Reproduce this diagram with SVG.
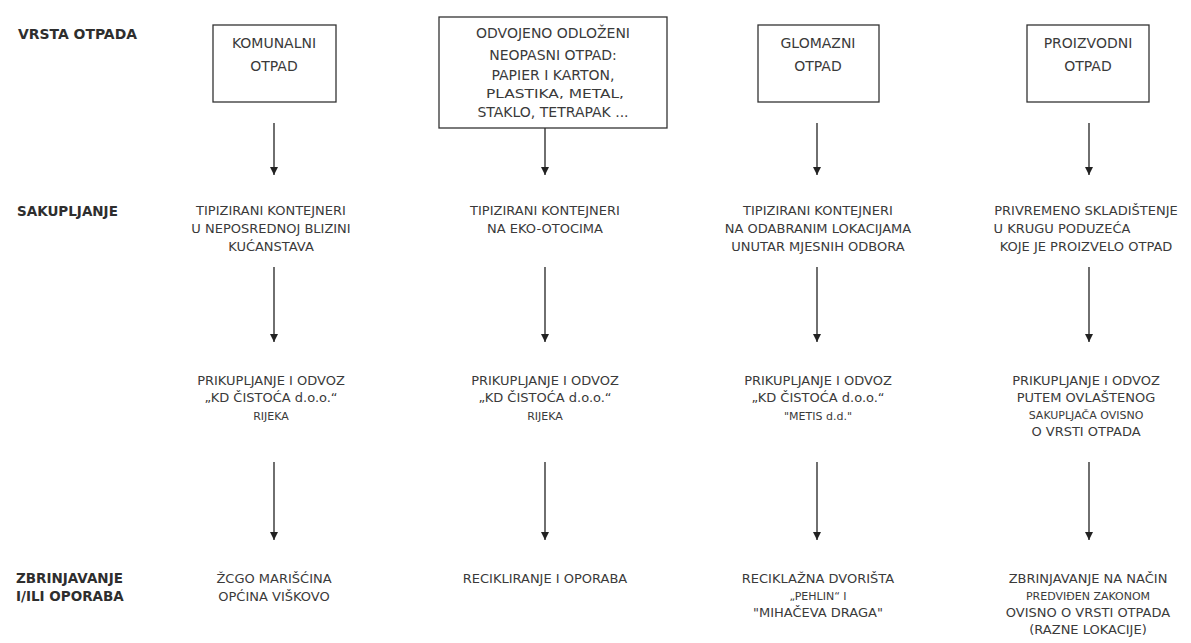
<svg xmlns="http://www.w3.org/2000/svg" width="1191" height="643" viewBox="0 0 1191 643">
<defs>
<marker id="ah" markerWidth="9" markerHeight="9" refX="8" refY="4" orient="auto" markerUnits="userSpaceOnUse">
<path d="M0,0 L8,4 L0,8 Z" fill="#222"/>
</marker>
<style>
text{font-family:"DejaVu Sans","Liberation Sans",sans-serif;fill:#3a3a3a;text-anchor:middle;font-size:13px}
.lbl{text-anchor:start;font-weight:bold;font-size:13.5px;fill:#2e2e2e}
.bx{font-size:14px}
.sm{font-size:11px}
.box{fill:#fff;stroke:#333;stroke-width:1.3}
.con{stroke:#222;stroke-width:1.3;fill:none}
</style>
</defs>
<rect width="1191" height="643" fill="#fff"/>
<g id="labels">
<text class="lbl" x="18" y="39" textLength="119" lengthAdjust="spacingAndGlyphs">VRSTA OTPADA</text>
<text class="lbl" x="17" y="216">SAKUPLJANJE</text>
<text class="lbl" x="16" y="583">ZBRINJAVANJE</text>
<text class="lbl" x="16" y="601">I/ILI OPORABA</text>
</g>
<g id="connectors">
<line class="con" x1="274" y1="123" x2="274" y2="175" marker-end="url(#ah)"/>
<line class="con" x1="545" y1="128" x2="545" y2="175" marker-end="url(#ah)"/>
<line class="con" x1="817" y1="123" x2="817" y2="175" marker-end="url(#ah)"/>
<line class="con" x1="1089" y1="123" x2="1089" y2="175" marker-end="url(#ah)"/>
<line class="con" x1="274" y1="267" x2="274" y2="342" marker-end="url(#ah)"/>
<line class="con" x1="545" y1="267" x2="545" y2="342" marker-end="url(#ah)"/>
<line class="con" x1="817" y1="267" x2="817" y2="342" marker-end="url(#ah)"/>
<line class="con" x1="1089" y1="267" x2="1089" y2="342" marker-end="url(#ah)"/>
<line class="con" x1="274" y1="462" x2="274" y2="540" marker-end="url(#ah)"/>
<line class="con" x1="545" y1="462" x2="545" y2="540" marker-end="url(#ah)"/>
<line class="con" x1="817" y1="462" x2="817" y2="540" marker-end="url(#ah)"/>
<line class="con" x1="1089" y1="462" x2="1089" y2="540" marker-end="url(#ah)"/>
</g>
<g id="n-komunalni">
<rect class="box" x="213" y="25" width="123" height="77"/>
<text class="bx" x="274" y="48">KOMUNALNI</text>
<text class="bx" x="274" y="71">OTPAD</text>
</g>
<g id="n-odvojeno">
<rect class="box" x="439" y="17" width="228" height="111"/>
<text class="bx" x="553" y="38">ODVOJENO ODLOŽENI</text>
<text class="bx" x="553" y="60">NEOPASNI OTPAD:</text>
<text class="bx" x="553" y="80">PAPIER I KARTON,</text>
<text x="555" y="98" font-size="11.5" textLength="138" lengthAdjust="spacingAndGlyphs">PLASTIKA, METAL,</text>
<text class="bx" x="553" y="117">STAKLO, TETRAPAK ...</text>
</g>
<g id="n-glomazni">
<rect class="box" x="758" y="25" width="121" height="77"/>
<text class="bx" x="818" y="48">GLOMAZNI</text>
<text class="bx" x="818" y="71">OTPAD</text>
</g>
<g id="n-proizvodni">
<rect class="box" x="1027" y="25" width="122" height="77"/>
<text class="bx" x="1088" y="48">PROIZVODNI</text>
<text class="bx" x="1088" y="71">OTPAD</text>
</g>
<g id="n-sak1">
<text x="271" y="215">TIPIZIRANI KONTEJNERI</text>
<text x="271" y="233">U NEPOSREDNOJ BLIZINI</text>
<text x="271" y="251">KUĆANSTAVA</text>
</g>
<g id="n-sak2">
<text x="545" y="215">TIPIZIRANI KONTEJNERI</text>
<text x="545" y="233">NA EKO-OTOCIMA</text>
</g>
<g id="n-sak3">
<text x="818" y="215">TIPIZIRANI KONTEJNERI</text>
<text x="818" y="233">NA ODABRANIM LOKACIJAMA</text>
<text x="818" y="251">UNUTAR MJESNIH ODBORA</text>
</g>
<g id="n-sak4">
<text x="1086" y="215">PRIVREMENO SKLADIŠTENJE</text>
<text x="1062" y="233">U KRUGU PODUZEĆA</text>
<text x="1086" y="251">KOJE JE PROIZVELO OTPAD</text>
</g>
<g id="n-pri1">
<text x="271" y="385">PRIKUPLJANJE I ODVOZ</text>
<text x="271" y="402">„KD ČISTOĆA d.o.o.“</text>
<text x="271" y="420" class="sm">RIJEKA</text>
</g>
<g id="n-pri2">
<text x="545" y="385">PRIKUPLJANJE I ODVOZ</text>
<text x="545" y="402">„KD ČISTOĆA d.o.o.“</text>
<text x="545" y="420" class="sm">RIJEKA</text>
</g>
<g id="n-pri3">
<text x="818" y="385">PRIKUPLJANJE I ODVOZ</text>
<text x="818" y="402">„KD ČISTOĆA d.o.o.“</text>
<text x="818" y="420" class="sm">"METIS d.d."</text>
</g>
<g id="n-pri4">
<text x="1086" y="385">PRIKUPLJANJE I ODVOZ</text>
<text x="1086" y="402">PUTEM OVLAŠTENOG</text>
<text x="1086" y="419" class="sm">SAKUPLJAČA OVISNO</text>
<text x="1086" y="436">O VRSTI OTPADA</text>
</g>
<g id="n-zbr1">
<text x="274" y="583">ŽCGO MARIŠĆINA</text>
<text x="274" y="601">OPĆINA VIŠKOVO</text>
</g>
<g id="n-zbr2">
<text x="545" y="583">RECIKLIRANJE I OPORABA</text>
</g>
<g id="n-zbr3">
<text x="818" y="583">RECIKLAŽNA DVORIŠTA</text>
<text x="818" y="600" class="sm">„PEHLIN“ I</text>
<text x="818" y="617">"MIHAČEVA DRAGA"</text>
</g>
<g id="n-zbr4">
<text x="1088" y="583">ZBRINJAVANJE NA NAČIN</text>
<text x="1088" y="600" class="sm">PREDVIĐEN ZAKONOM</text>
<text x="1088" y="617">OVISNO O VRSTI OTPADA</text>
<text x="1088" y="634">(RAZNE LOKACIJE)</text>
</g>
</svg>
